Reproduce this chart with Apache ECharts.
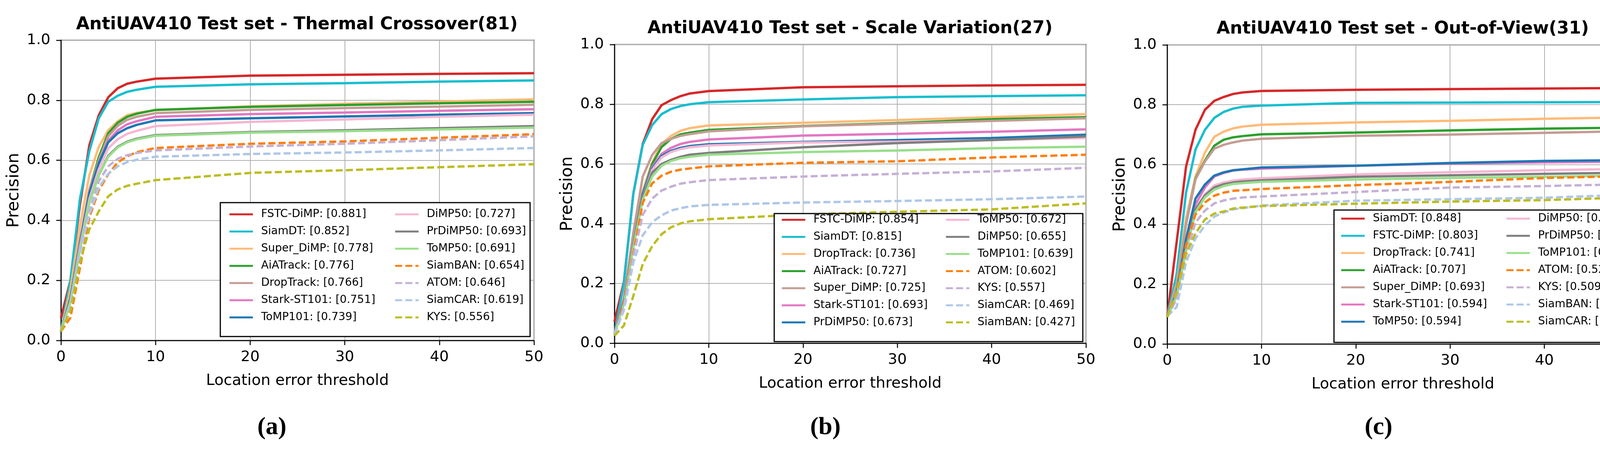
<!DOCTYPE html>
<html>
<head>
<meta charset="utf-8">
<script src="https://cdn.jsdelivr.net/npm/echarts@6/dist/echarts.min.js"></script>
<style>
  html, body { margin: 0; padding: 0; background: #fff; }
  #wrap { position: relative; width: 4266px; height: 1168px; }
  .panel { position: absolute; top: 0; width: 1422px; height: 1168px; }
</style>
</head>
<body>
<div id="wrap">
  <div class="panel" id="pa" style="left:0"></div>
  <div class="panel" id="pb" style="left:1422px"></div>
  <div class="panel" id="pc" style="left:2844px"></div>
</div>
<script>
const FONT = "'DejaVu Sans', sans-serif";

// location error thresholds where the curves were read
const THRESH = [0, 1, 2, 3, 4, 5, 6, 7, 8, 10, 20, 30, 40, 50];

// colour by rank in the legend; the last four are dashed
const COLORS = ['#d62728', '#17becf', '#ffbb78', '#2ca02c', '#c49c94', '#e377c2', '#1f77b4',
                '#f7b6d2', '#7f7f7f', '#98df8a', '#ff7f0e', '#c5b0d5', '#aec7e8', '#bcbd22'];

// (a) Thermal Crossover
const NAMES_A  = ['FSTC-DiMP', 'SiamDT', 'Super_DiMP', 'AiATrack', 'DropTrack', 'Stark-ST101', 'ToMP101',
                  'DiMP50', 'PrDiMP50', 'ToMP50', 'SiamBAN', 'ATOM', 'SiamCAR', 'KYS'];
const SCORES_A = ['0.881', '0.852', '0.778', '0.776', '0.766', '0.751', '0.739',
                  '0.727', '0.693', '0.691', '0.654', '0.646', '0.619', '0.556'];
const PREC_A = [
  [0.075, 0.20, 0.45, 0.65, 0.75, 0.81, 0.84, 0.855, 0.862, 0.872, 0.882, 0.885, 0.888, 0.890],
  [0.03, 0.20, 0.47, 0.63, 0.74, 0.795, 0.815, 0.828, 0.835, 0.845, 0.853, 0.857, 0.862, 0.866],
  [0.03, 0.17, 0.38, 0.55, 0.645, 0.70, 0.73, 0.75, 0.758, 0.767, 0.78, 0.788, 0.796, 0.803],
  [0.03, 0.14, 0.33, 0.50, 0.61, 0.69, 0.725, 0.745, 0.755, 0.768, 0.778, 0.784, 0.79, 0.795],
  [0.03, 0.14, 0.33, 0.50, 0.60, 0.68, 0.715, 0.735, 0.745, 0.757, 0.768, 0.774, 0.779, 0.785],
  [0.03, 0.14, 0.32, 0.49, 0.59, 0.665, 0.70, 0.72, 0.73, 0.745, 0.754, 0.759, 0.765, 0.77],
  [0.03, 0.14, 0.32, 0.49, 0.59, 0.66, 0.69, 0.707, 0.718, 0.733, 0.74, 0.746, 0.752, 0.757],
  [0.03, 0.13, 0.31, 0.47, 0.57, 0.64, 0.67, 0.688, 0.698, 0.714, 0.728, 0.736, 0.745, 0.752],
  [0.03, 0.13, 0.30, 0.46, 0.55, 0.615, 0.645, 0.662, 0.672, 0.684, 0.694, 0.70, 0.707, 0.714],
  [0.03, 0.13, 0.30, 0.46, 0.55, 0.612, 0.643, 0.66, 0.67, 0.682, 0.692, 0.697, 0.703, 0.709],
  [0.03, 0.076, 0.24, 0.41, 0.50, 0.553, 0.593, 0.613, 0.627, 0.641, 0.655, 0.663, 0.675, 0.687],
  [0.03, 0.12, 0.30, 0.43, 0.53, 0.58, 0.605, 0.617, 0.624, 0.633, 0.646, 0.655, 0.667, 0.68],
  [0.03, 0.12, 0.29, 0.42, 0.51, 0.555, 0.58, 0.594, 0.602, 0.612, 0.621, 0.626, 0.633, 0.641],
  [0.03, 0.10, 0.26, 0.37, 0.43, 0.48, 0.503, 0.515, 0.522, 0.534, 0.558, 0.567, 0.577, 0.587],
];

// (b) Scale Variation
const NAMES_B  = ['FSTC-DiMP', 'SiamDT', 'DropTrack', 'AiATrack', 'Super_DiMP', 'Stark-ST101', 'PrDiMP50',
                  'ToMP50', 'DiMP50', 'ToMP101', 'ATOM', 'KYS', 'SiamCAR', 'SiamBAN'];
const SCORES_B = ['0.854', '0.815', '0.736', '0.727', '0.725', '0.693', '0.673',
                  '0.672', '0.655', '0.639', '0.602', '0.557', '0.469', '0.427'];
const PREC_B = [
  [0.072, 0.205, 0.50, 0.667, 0.75, 0.797, 0.814, 0.827, 0.836, 0.844, 0.857, 0.86, 0.863, 0.865],
  [0.03, 0.20, 0.50, 0.664, 0.73, 0.767, 0.784, 0.794, 0.80, 0.807, 0.816, 0.824, 0.827, 0.83],
  [0.03, 0.14, 0.33, 0.51, 0.604, 0.667, 0.694, 0.711, 0.72, 0.729, 0.738, 0.747, 0.757, 0.767],
  [0.03, 0.14, 0.33, 0.50, 0.60, 0.657, 0.684, 0.699, 0.705, 0.714, 0.727, 0.737, 0.75, 0.757],
  [0.03, 0.15, 0.37, 0.558, 0.63, 0.67, 0.684, 0.694, 0.70, 0.709, 0.726, 0.735, 0.744, 0.753],
  [0.03, 0.14, 0.33, 0.50, 0.59, 0.634, 0.654, 0.667, 0.674, 0.682, 0.695, 0.701, 0.708, 0.716],
  [0.03, 0.14, 0.33, 0.50, 0.585, 0.627, 0.644, 0.654, 0.66, 0.666, 0.674, 0.68, 0.687, 0.698],
  [0.03, 0.14, 0.33, 0.49, 0.58, 0.622, 0.64, 0.65, 0.656, 0.662, 0.672, 0.675, 0.68, 0.687],
  [0.03, 0.14, 0.33, 0.49, 0.571, 0.60, 0.614, 0.624, 0.631, 0.637, 0.656, 0.67, 0.68, 0.692],
  [0.03, 0.13, 0.32, 0.48, 0.558, 0.594, 0.61, 0.619, 0.624, 0.631, 0.64, 0.645, 0.653, 0.658],
  [0.03, 0.13, 0.30, 0.47, 0.535, 0.561, 0.574, 0.581, 0.585, 0.592, 0.604, 0.609, 0.622, 0.631],
  [0.03, 0.12, 0.29, 0.43, 0.484, 0.511, 0.524, 0.534, 0.539, 0.546, 0.558, 0.567, 0.575, 0.587],
  [0.03, 0.11, 0.27, 0.361, 0.405, 0.428, 0.444, 0.452, 0.458, 0.463, 0.471, 0.476, 0.482, 0.491],
  [0.025, 0.059, 0.158, 0.265, 0.325, 0.365, 0.388, 0.401, 0.408, 0.415, 0.431, 0.44, 0.448, 0.468],
];

// (c) Out-of-View
const NAMES_C  = ['SiamDT', 'FSTC-DiMP', 'DropTrack', 'AiATrack', 'Super_DiMP', 'Stark-ST101', 'ToMP50',
                  'DiMP50', 'PrDiMP50', 'ToMP101', 'ATOM', 'KYS', 'SiamBAN', 'SiamCAR'];
const SCORES_C = ['0.848', '0.803', '0.741', '0.707', '0.693', '0.594', '0.594',
                  '0.567', '0.558', '0.548', '0.529', '0.509', '0.478', '0.468'];
const PREC_C = [
  [0.09, 0.34, 0.593, 0.716, 0.783, 0.813, 0.826, 0.836, 0.841, 0.846, 0.85, 0.852, 0.854, 0.856],
  [0.09, 0.233, 0.506, 0.65, 0.716, 0.756, 0.776, 0.787, 0.793, 0.797, 0.806, 0.807, 0.808, 0.809],
  [0.09, 0.20, 0.42, 0.56, 0.64, 0.693, 0.71, 0.721, 0.727, 0.733, 0.741, 0.746, 0.753, 0.758],
  [0.09, 0.19, 0.40, 0.553, 0.613, 0.663, 0.683, 0.691, 0.695, 0.701, 0.707, 0.714, 0.72, 0.724],
  [0.09, 0.19, 0.40, 0.55, 0.61, 0.653, 0.666, 0.674, 0.68, 0.686, 0.696, 0.70, 0.706, 0.712],
  [0.09, 0.16, 0.33, 0.466, 0.523, 0.56, 0.572, 0.58, 0.583, 0.586, 0.596, 0.603, 0.607, 0.61],
  [0.09, 0.17, 0.35, 0.486, 0.533, 0.563, 0.574, 0.581, 0.584, 0.59, 0.596, 0.605, 0.612, 0.615],
  [0.09, 0.16, 0.32, 0.45, 0.50, 0.53, 0.54, 0.546, 0.55, 0.554, 0.567, 0.574, 0.581, 0.586],
  [0.09, 0.16, 0.32, 0.45, 0.497, 0.523, 0.534, 0.54, 0.543, 0.547, 0.559, 0.564, 0.569, 0.573],
  [0.09, 0.16, 0.31, 0.44, 0.49, 0.516, 0.528, 0.535, 0.538, 0.542, 0.55, 0.555, 0.559, 0.564],
  [0.09, 0.17, 0.33, 0.433, 0.473, 0.496, 0.506, 0.512, 0.514, 0.518, 0.531, 0.542, 0.555, 0.562],
  [0.09, 0.15, 0.30, 0.406, 0.446, 0.47, 0.48, 0.486, 0.49, 0.493, 0.508, 0.523, 0.528, 0.535],
  [0.093, 0.123, 0.273, 0.353, 0.396, 0.426, 0.44, 0.45, 0.454, 0.463, 0.479, 0.484, 0.489, 0.50],
  [0.09, 0.17, 0.30, 0.37, 0.416, 0.436, 0.443, 0.453, 0.456, 0.461, 0.469, 0.476, 0.481, 0.491],
];

const BLACK_LINE = { color: '#000', width: 2.5 };
const GRID_LINE  = { color: '#b0b0b0', width: 2 };

function drawPanel(id, p) {
  const c = echarts.init(document.getElementById(id), null, { renderer: 'canvas' });
  const labelOf = {};
  p.names.forEach((n, i) => { labelOf[n] = n + ': [' + p.scores[i] + ']'; });

  // one legend per column so the columns sit where the reference has them
  const legendCol = (names, left) => ({
    orient: 'vertical', left, top: p.row0 - 16, padding: 0,
    width: 360, height: 7 * p.pitch,
    itemWidth: 60, itemHeight: 32, itemGap: p.pitch - 32,
    selectedMode: false, data: names,
    itemStyle: { opacity: 0 },
    lineStyle: { width: 5 },
    formatter: n => labelOf[n],
    textStyle: { fontFamily: FONT, fontSize: 28, color: '#000', padding: [0, 0, 0, 16] },
  });

  c.setOption({
    animation: false,
    title: {
      text: p.title, left: p.titleX, top: p.titleY, padding: 0,
      textAlign: 'center', textVerticalAlign: 'middle',
      textStyle: { fontFamily: FONT, fontWeight: 'bold', fontSize: 44.5, color: '#000' },
    },
    grid: {
      left: p.grid[0], top: p.grid[1], width: p.grid[2], height: p.grid[3],
      show: true, borderColor: '#000', borderWidth: 2.5, backgroundColor: '#fff',
      outerBoundsMode: 'none',
    },
    xAxis: {
      type: 'value', min: 0, max: 50, interval: 10,
      name: 'Location error threshold', nameLocation: 'middle', nameGap: 84,
      nameTextStyle: { fontFamily: FONT, fontSize: 39, color: '#000' },
      axisLine: { show: true, onZero: false, lineStyle: BLACK_LINE },
      axisTick: { show: true, length: 12, lineStyle: BLACK_LINE },
      axisLabel: { fontFamily: FONT, fontSize: 38, color: '#000', margin: 24 },
      splitLine: { show: true, lineStyle: GRID_LINE },
    },
    yAxis: {
      type: 'value', min: 0, max: 1, interval: 0.2,
      name: 'Precision', nameLocation: 'middle', nameRotate: 90, nameGap: p.yNameGap,
      nameTextStyle: { fontFamily: FONT, fontSize: 43, color: '#000' },
      axisLine: { show: true, lineStyle: BLACK_LINE },
      axisTick: { show: true, length: 12, lineStyle: BLACK_LINE },
      axisLabel: { fontFamily: FONT, fontSize: 38, color: '#000', margin: 27, formatter: v => v.toFixed(1) },
      splitLine: { show: true, lineStyle: GRID_LINE },
    },
    legend: [legendCol(p.names.slice(0, 7), p.col1), legendCol(p.names.slice(7), p.col2)],
    graphic: [
      {
        type: 'rect', z: 3, silent: true, x: p.box[0], y: p.box[1],
        shape: { x: 0, y: 0, width: p.box[2], height: p.box[3] },
        style: { fill: '#fff', stroke: '#000', lineWidth: 3 },
      },
      {
        type: 'text', x: p.capX, y: 1095, silent: true,
        style: {
          text: p.caption, fontFamily: "'Liberation Serif', serif", fontWeight: 'bold',
          fontSize: 64, fill: '#000', align: 'center', verticalAlign: 'middle',
        },
      },
    ],
    series: p.names.map((n, i) => ({
      name: n, type: 'line', z: 2,
      data: THRESH.map((x, k) => [x, p.prec[i][k]]),
      symbol: 'none', showSymbol: false, smooth: false,
      lineStyle: { color: COLORS[i], width: 6, type: i >= 10 ? [18, 8] : 'solid', cap: 'butt' },
      itemStyle: { color: COLORS[i] },
    })),
  });
  return c;
}

drawPanel('pa', {
  title: 'AntiUAV410 Test set - Thermal Crossover(81)', titleX: 760, titleY: 63,
  names: NAMES_A, scores: SCORES_A, prec: PREC_A,
  grid: [156, 103, 1211, 769], yNameGap: 98,
  row0: 551, pitch: 48, col1: 585, col2: 1009, box: [564, 519, 793, 343],
  caption: '(a)', capX: 696,
});
drawPanel('pb', {
  title: 'AntiUAV410 Test set - Scale Variation(27)', titleX: 754, titleY: 73,
  names: NAMES_B, scores: SCORES_B, prec: PREC_B,
  grid: [151, 114, 1207, 765], yNameGap: 99,
  row0: 565, pitch: 47.8, col1: 577, col2: 997, box: [560, 547, 790, 328],
  caption: '(b)', capX: 691,
});
drawPanel('pc', {
  title: 'AntiUAV410 Test set - Out-of-View(31)', titleX: 747, titleY: 74,
  names: NAMES_C, scores: SCORES_C, prec: PREC_C,
  grid: [144, 115, 1207, 766], yNameGap: 93,
  row0: 562, pitch: 48, col1: 587, col2: 1010, box: [571, 538, 771, 339],
  caption: '(c)', capX: 685,
});
</script>
</body>
</html>
